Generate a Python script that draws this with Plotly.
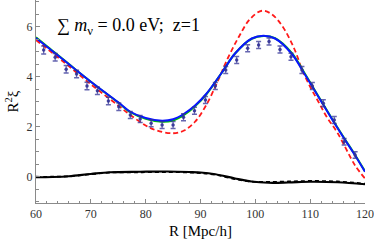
import plotly.graph_objects as go

# Data points (N-body measurement) with error bars
pts_r = [61.4, 63.5, 65.5, 67.4, 69.3, 71.2, 73.2, 75.1, 77.2, 79.0,
         81.0, 83.0, 85.0, 86.9, 88.9, 90.9, 92.7, 94.6, 96.6, 98.6,
         100.6, 102.5, 104.5, 106.5, 108.5, 110.4, 112.4, 114.4, 116.2, 118.2]
pts_xi = [5.07, 4.78, 4.30, 4.11, 3.63, 3.44, 3.03, 2.80, 2.47, 2.31,
          2.14, 2.07, 2.07, 2.38, 2.64, 3.07, 3.63, 4.27, 4.67, 5.14,
          5.27, 5.41, 5.09, 4.80, 4.27, 3.63, 2.94, 2.27, 1.40, 0.87]
pts_err = [0.16, 0.15, 0.15, 0.15, 0.15, 0.15, 0.15, 0.15, 0.14, 0.14,
           0.14, 0.14, 0.14, 0.14, 0.14, 0.14, 0.14, 0.14, 0.14, 0.14,
           0.14, 0.14, 0.14, 0.14, 0.14, 0.14, 0.14, 0.14, 0.13, 0.13]

# Model curves
blue_r = [60, 62, 65, 67.3, 70, 72, 75, 77.2, 80, 83, 85, 87, 89, 91, 94, 96.3,
          99.35, 101.5, 103.6, 106.6, 109.1, 111.5, 113.9, 116.2, 118, 120]
blue_xi = [5.55, 5.2, 4.68, 4.27, 3.8, 3.47, 2.98, 2.6, 2.35, 2.24, 2.3, 2.52, 2.85,
           3.3, 4.2, 4.93, 5.53, 5.64, 5.53, 4.93, 4.07, 3.2, 2.33, 1.53, 0.92, 0.2]
green_xi = [5.58, 5.22, 4.69, 4.27, 3.8, 3.46, 2.97, 2.58, 2.32, 2.2, 2.25, 2.47, 2.82,
            3.28, 4.2, 4.93, 5.52, 5.63, 5.54, 4.96, 4.1, 3.22, 2.35, 1.55, 0.94, 0.22]

red_r = [60, 65, 70, 75, 77.2, 80, 82, 85, 87, 89, 91, 93, 95, 97, 99,
         101.2, 103, 105, 107.2, 108.5, 110, 111.5, 113, 115, 118.2, 120]
red_xi = [5.47, 4.6, 3.7, 2.85, 2.47, 2.05, 1.85, 1.74, 1.85, 2.2, 2.85, 3.75,
          4.75, 5.6, 6.3, 6.64, 6.5, 6.0, 5.07, 4.3, 3.6, 3.0, 2.4, 1.75, 0.45, -0.07]

blk_r = [60, 63, 66, 70, 73.5, 79, 84, 88, 90, 92.7, 96.3, 99.3, 102.4, 106, 110, 115, 120]
blk_xi = [-0.02, -0.01, 0.02, 0.11, 0.18, 0.2, 0.21, 0.19, 0.17, 0.1, -0.07,
          -0.19, -0.24, -0.23, -0.2, -0.22, -0.3]
blkd_xi = [0.0, 0.0, 0.02, 0.1, 0.17, 0.18, 0.19, 0.17, 0.15, 0.08, -0.09,
           -0.19, -0.21, -0.19, -0.17, -0.19, -0.28]

serif = "Liberation Serif, Times New Roman, serif"

fig = go.Figure()
fig.add_trace(go.Scatter(x=blk_r, y=blk_xi, mode="lines", line=dict(color="black", width=2.2, shape="spline")))
fig.add_trace(go.Scatter(x=blk_r, y=blkd_xi, mode="lines", line=dict(color="black", width=1.8, dash="4px,3px", shape="spline")))
fig.add_trace(go.Scatter(x=red_r, y=red_xi, mode="lines", line=dict(color="#ff1a1a", width=1.8, dash="5px,3px", shape="spline")))
fig.add_trace(go.Scatter(x=blue_r, y=green_xi, mode="lines", line=dict(color="#00c800", width=2, shape="spline")))
fig.add_trace(go.Scatter(x=blue_r, y=blue_xi, mode="lines", line=dict(color="#0a14ff", width=2, shape="spline")))
fig.add_trace(go.Scatter(x=pts_r, y=pts_xi, mode="markers",
                         marker=dict(color="rgba(50,50,150,0.9)", size=3.5),
                         error_y=dict(type="data", array=pts_err, color="rgba(50,50,150,0.75)",
                                      thickness=1.3, width=2.5)))

fig.add_annotation(x=63.4, y=6.0, xref="x", yref="y", xanchor="left", yanchor="middle",
                   text="∑ <i>m</i><sub>ν</sub> = 0.0 eV;  z=1", showarrow=False,
                   font=dict(family=serif, size=18, color="black"))

axis_common = dict(showgrid=False, zeroline=False, showline=True, linecolor="#8a8a8a", linewidth=1,
                   ticks="inside", ticklen=4, tickcolor="#8a8a8a",
                   tickfont=dict(family=serif, size=12, color="#333333"))
fig.update_xaxes(range=[60, 120], tickvals=[60, 70, 80, 90, 100, 110, 120],
                 minor=dict(dtick=2, tick0=60, ticks="inside", ticklen=2.5, tickcolor="#8a8a8a"),
                 title=dict(text="R [Mpc/h]", font=dict(family=serif, size=15, color="black"), standoff=5),
                 **axis_common)
fig.update_yaxes(range=[-1.05, 7.07], tickvals=[0, 2, 4, 6],
                 minor=dict(dtick=0.5, tick0=0, ticks="inside", ticklen=2.5, tickcolor="#8a8a8a"),
                 title=dict(text="R<sup>2</sup>ξ", font=dict(family=serif, size=15, color="black"), standoff=4),
                 **axis_common)

fig.update_layout(width=374, height=241, margin=dict(l=36, r=9, t=0, b=38),
                  paper_bgcolor="white", plot_bgcolor="white", showlegend=False)
fig.write_html("out.html", config={"displayModeBar": False},
               post_script="document.body.style.margin='0';document.body.style.overflow='hidden';")
